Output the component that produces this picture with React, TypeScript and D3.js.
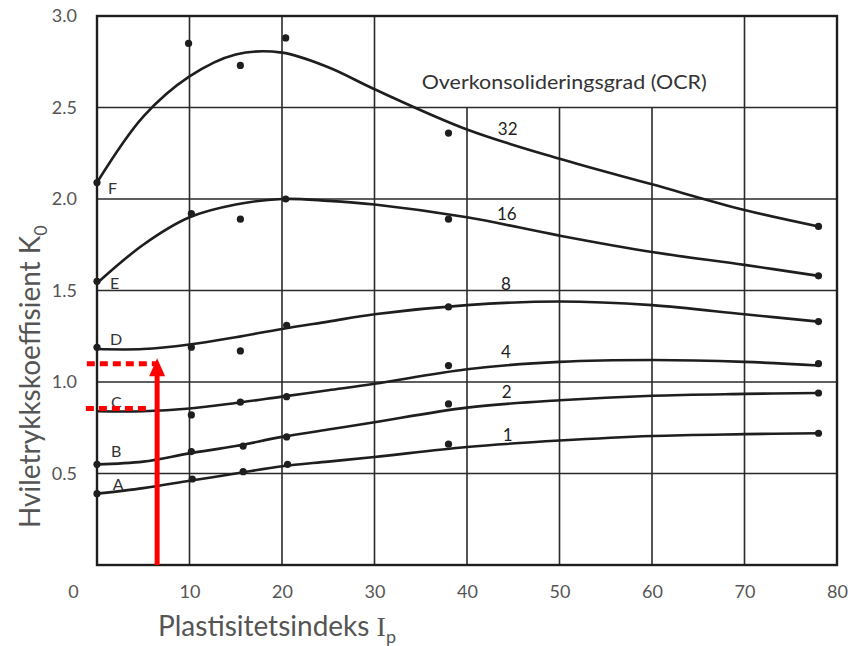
import React, { useRef, useEffect } from "react";
import * as d3 from "d3";

// Hviletrykkskoeffisient K0 mot plastisitetsindeks Ip for ulike OCR
const curveIp = [0, 5, 10, 15, 20, 25, 30, 40, 50, 60, 70, 78];
const curveF = [2.09, 2.45, 2.67, 2.79, 2.8, 2.72, 2.6, 2.38, 2.22, 2.08, 1.94, 1.85];
const curveE = [1.54, 1.75, 1.9, 1.97, 2.0, 1.99, 1.97, 1.9, 1.8, 1.71, 1.64, 1.58];
const curveD = [1.18, 1.18, 1.205, 1.245, 1.29, 1.33, 1.37, 1.42, 1.44, 1.42, 1.37, 1.33];
const curveC = [0.84, 0.84, 0.855, 0.885, 0.92, 0.955, 0.99, 1.07, 1.11, 1.12, 1.11, 1.09];
const curveB = [0.55, 0.565, 0.61, 0.65, 0.7, 0.74, 0.78, 0.86, 0.9, 0.925, 0.935, 0.94];
const curveA = [0.39, 0.42, 0.46, 0.5, 0.54, 0.565, 0.59, 0.645, 0.68, 0.705, 0.715, 0.72];

// målte punkter [Ip, K0]
const pointsF = [[0, 2.09], [9.9, 2.85], [15.5, 2.73], [20.4, 2.88], [38, 2.36], [78, 1.85]];
const pointsE = [[0, 1.55], [10.2, 1.92], [15.5, 1.89], [20.4, 2.0], [38, 1.89], [78, 1.58]];
const pointsD = [[0, 1.19], [10.2, 1.19], [15.5, 1.17], [20.5, 1.31], [38, 1.41], [78, 1.33]];
const pointsC = [[10.2, 0.82], [15.5, 0.89], [20.5, 0.92], [38, 1.09], [78, 1.1]];
const pointsB = [[0, 0.55], [10.2, 0.62], [15.8, 0.65], [20.5, 0.7], [38, 0.88], [78, 0.94]];
const pointsA = [[0, 0.39], [10.3, 0.47], [15.8, 0.51], [20.6, 0.55], [38, 0.66], [78, 0.72]];

const letters = ["F", "E", "D", "C", "B", "A"];
const letterPos = [[1.2, 2.03], [1.4, 1.51], [1.4, 1.2], [1.5, 0.86], [1.5, 0.59], [1.7, 0.41]];
const ocrLabels = ["32", "16", "8", "4", "2", "1"];
const ocrPos = [[44.4, 2.35], [44.3, 1.885], [44.2, 1.505], [44.2, 1.13], [44.3, 0.91], [44.4, 0.68]];

const xTicks = [0, 10, 20, 30, 40, 50, 60, 70, 80];
const yTicks = [0.5, 1.0, 1.5, 2.0, 2.5, 3.0];
const cutGridIp = [40, 50, 60];

// rød markering
const arrowIp = 6.5;
const arrowTopK = 1.13;
const dottedLines = [[-1.1, 6.4, 1.1], [-1.2, 5.8, 0.855]];

const App = () => {
  const ref = useRef(null);

  useEffect(() => {
    document.body.style.margin = "0";
    const svg = d3.select(ref.current);
    svg.selectAll("*").remove();

    const width = 851;
    const height = 646;
    svg.attr("width", width).attr("height", height);
    svg.append("rect").attr("width", width).attr("height", height).attr("fill", "white");

    const x = d3.scaleLinear().domain([0, 80]).range([97, 837]);
    const y = d3.scaleLinear().domain([0, 3]).range([565, 16]);
    const ink = "#1e1e1e";

    // grid
    const grid = svg.append("g").attr("stroke", "#2a2a2a").attr("stroke-width", 1.6);
    grid
      .selectAll("line.v")
      .data(xTicks.filter((d) => d > 0 && d < 80))
      .join("line")
      .attr("x1", (d) => x(d))
      .attr("x2", (d) => x(d))
      .attr("y1", (d) => (cutGridIp.includes(d) ? y(2.5) : y(3)))
      .attr("y2", y(0));
    grid
      .selectAll("line.h")
      .data(yTicks.filter((d) => d < 3))
      .join("line")
      .attr("x1", x(0))
      .attr("x2", x(80))
      .attr("y1", (d) => y(d))
      .attr("y2", (d) => y(d));

    svg
      .append("rect")
      .attr("x", x(0))
      .attr("y", y(3))
      .attr("width", x(80) - x(0))
      .attr("height", y(0) - y(3))
      .attr("fill", "none")
      .attr("stroke", ink)
      .attr("stroke-width", 2.4);

    // axes labels
    const xAxis = svg
      .append("g")
      .attr("transform", `translate(0,${y(0)})`)
      .call(d3.axisBottom(x).tickValues(xTicks).tickSize(0).tickPadding(20).tickFormat(d3.format("d")));
    xAxis.select(".domain").remove();
    xAxis
      .selectAll("text")
      .attr("font-family", "Lato, 'Open Sans', sans-serif")
      .attr("font-size", 18)
      .attr("fill", "#555")
      .attr("dx", (d) => (d === 0 ? -24 : 0));

    const yAxis = svg
      .append("g")
      .attr("transform", `translate(${x(0)},0)`)
      .call(d3.axisLeft(y).tickValues(yTicks).tickSize(0).tickPadding(20).tickFormat(d3.format(".1f")));
    yAxis.select(".domain").remove();
    yAxis
      .selectAll("text")
      .attr("font-family", "Lato, 'Open Sans', sans-serif")
      .attr("font-size", 18)
      .attr("fill", "#555");

    // curves
    const series = [
      [curveF, pointsF],
      [curveE, pointsE],
      [curveD, pointsD],
      [curveC, pointsC],
      [curveB, pointsB],
      [curveA, pointsA],
    ];
    const line = d3
      .line()
      .x((d) => x(d[0]))
      .y((d) => y(d[1]))
      .curve(d3.curveCatmullRom.alpha(0.5));

    series.forEach(([vals, pts]) => {
      svg
        .append("path")
        .datum(curveIp.map((ip, i) => [ip, vals[i]]))
        .attr("d", line)
        .attr("fill", "none")
        .attr("stroke", ink)
        .attr("stroke-width", 2.6);
      svg
        .append("g")
        .selectAll("circle")
        .data(pts)
        .join("circle")
        .attr("cx", (d) => x(d[0]))
        .attr("cy", (d) => y(d[1]))
        .attr("r", 3.6)
        .attr("fill", ink);
    });

    // letters and OCR values
    svg
      .append("g")
      .selectAll("text")
      .data(letters)
      .join("text")
      .attr("x", (d, i) => x(letterPos[i][0]))
      .attr("y", (d, i) => y(letterPos[i][1]))
      .attr("font-family", "Lato, 'Open Sans', sans-serif")
      .attr("font-size", 16)
      .attr("fill", "#333")
      .text((d) => d);

    svg
      .append("g")
      .selectAll("text")
      .data(ocrLabels)
      .join("text")
      .attr("x", (d, i) => x(ocrPos[i][0]))
      .attr("y", (d, i) => y(ocrPos[i][1]))
      .attr("text-anchor", "middle")
      .attr("font-family", "Lato, 'Open Sans', sans-serif")
      .attr("font-size", 17)
      .attr("fill", "#222")
      .text((d) => d);

    svg
      .append("text")
      .attr("x", x(35.1))
      .attr("y", y(2.6))
      .attr("font-family", "Lato, 'Open Sans', sans-serif")
      .attr("font-size", 19)
      .attr("fill", "#333")
      .attr("textLength", 285)
      .attr("lengthAdjust", "spacingAndGlyphs")
      .text("Overkonsolideringsgrad (OCR)");

    // axis titles
    const xt = svg
      .append("text")
      .attr("x", 158)
      .attr("y", 636)
      .attr("font-family", "Lato, 'Open Sans', sans-serif")
      .attr("font-size", 28)
      .attr("fill", "#555");
    xt.append("tspan").text("Plastisitetsindeks ");
    xt.append("tspan").attr("font-family", "'Liberation Serif', serif").text("I");
    xt.append("tspan").attr("font-size", 18).attr("dy", 7).text("p");

    const yt = svg
      .append("text")
      .attr("transform", `translate(40,${528}) rotate(-90)`)
      .attr("font-family", "Lato, 'Open Sans', sans-serif")
      .attr("font-size", 28)
      .attr("fill", "#555");
    yt.append("tspan").text("Hviletrykkskoeffisient K");
    yt.append("tspan").attr("font-size", 18).attr("dy", 7).text("0");

    // red markup
    const red = "#ff0000";
    svg
      .append("g")
      .selectAll("line")
      .data(dottedLines)
      .join("line")
      .attr("x1", (d) => x(d[0]))
      .attr("x2", (d) => x(d[1]))
      .attr("y1", (d) => y(d[2]))
      .attr("y2", (d) => y(d[2]))
      .attr("stroke", red)
      .attr("stroke-width", 5)
      .attr("stroke-dasharray", "8 5");

    const ax = x(arrowIp);
    const tipY = y(arrowTopK);
    svg
      .append("line")
      .attr("x1", ax)
      .attr("x2", ax)
      .attr("y1", y(0))
      .attr("y2", tipY + 14)
      .attr("stroke", red)
      .attr("stroke-width", 5);
    svg
      .append("path")
      .attr("d", `M${ax},${tipY} L${ax - 8},${tipY + 18} L${ax + 8},${tipY + 18} Z`)
      .attr("fill", red);
  }, []);

  return <svg ref={ref} style={{ display: "block" }}></svg>;
};

export default App;
